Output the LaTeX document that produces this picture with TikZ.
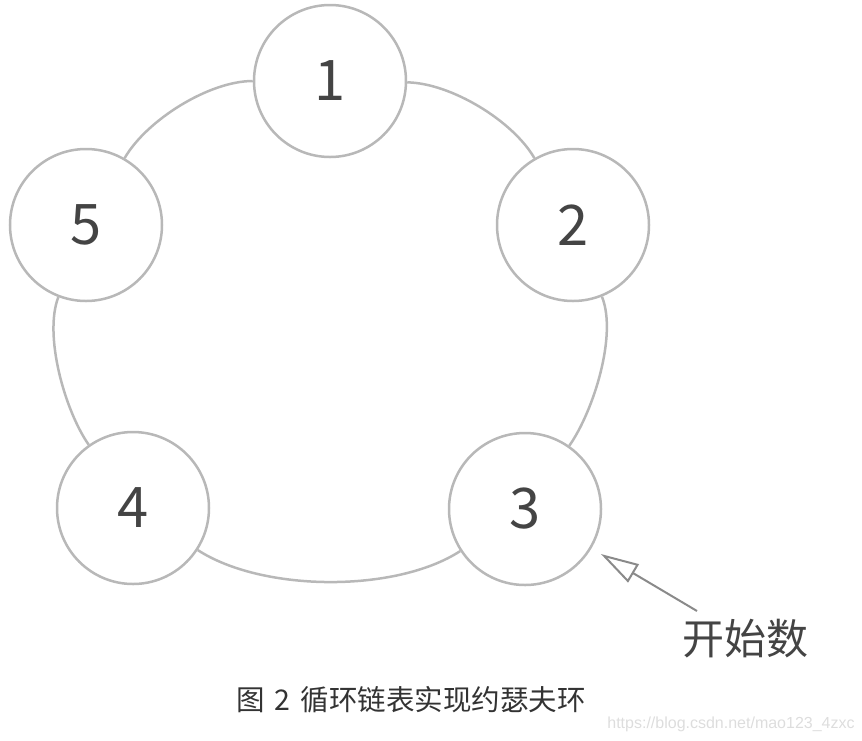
\documentclass[tikz,border=0pt]{standalone}
\usepackage{fontspec}
\newfontfamily\cjk{Noto Sans CJK SC}
\newfontfamily\wmfont{Liberation Sans}
\usetikzlibrary{arrows.meta}
\definecolor{ringgray}{HTML}{B8B8B8}
\definecolor{digitgray}{HTML}{444444}
\definecolor{arrowgray}{HTML}{8A8A8A}
\definecolor{capgray}{HTML}{333333}
\definecolor{wmgray}{HTML}{DDDDDD}
\tikzset{
  ringnode/.style={circle, draw=ringgray, line width=2.5pt, fill=white,
    minimum size=152pt, inner sep=0pt, text=digitgray, font=\cjk\fontsize{56}{60}\selectfont},
  ringline/.style={draw=ringgray, line width=2.5pt, looseness=0.75},
  startarrow/.style={draw=arrowgray, line width=2pt,
    -{Triangle[open, length=38pt, width=21pt, line width=2pt]}, shorten >=11pt},
  startlabel/.style={text=digitgray, font=\cjk\fontsize{42}{46}\selectfont, inner sep=0pt},
  caption/.style={text=capgray, font=\cjk\fontsize{28.5}{33}\selectfont, inner sep=0pt},
  watermark/.style={text=wmgray, font=\wmfont\fontsize{16}{18}\selectfont, inner sep=0pt}
}
\begin{document}
\begin{tikzpicture}[x=1pt,y=1pt]
\useasboundingbox (0,0) rectangle (862,-740);
\node[ringnode] (n1) at (330,-81) {1};
\node[ringnode] (n2) at (573,-225) {2};
\node[ringnode] (n3) at (525,-509) {3};
\node[ringnode] (n4) at (133,-508) {4};
\node[ringnode] (n5) at (86,-225) {5};
\draw[ringline] (n1) to[out=-1, in=120] (n2);
\draw[ringline, looseness=0.7] (n2) to[out=-68, in=55] (n3);
\draw[ringline] (n3) to[out=213, in=-33] (n4);
\draw[ringline, looseness=0.7] (n4) to[out=125, in=249] (n5);
\draw[ringline] (n5) to[out=60, in=180] (n1);
\node[startlabel] (start) at (745,-639) {开始数};
\coordinate (arrowfrom) at (697,-611);
\draw[startarrow] (arrowfrom) -- (n3);
\node[caption] (cap) at (411,-700) {{\spaceskip=10pt\relax 图 2 循环链表实现约瑟夫环}};
\node[watermark] (wm) at (731,-724) {https://blog.csdn.net/mao123\_4zxc};
\end{tikzpicture}
\end{document}
